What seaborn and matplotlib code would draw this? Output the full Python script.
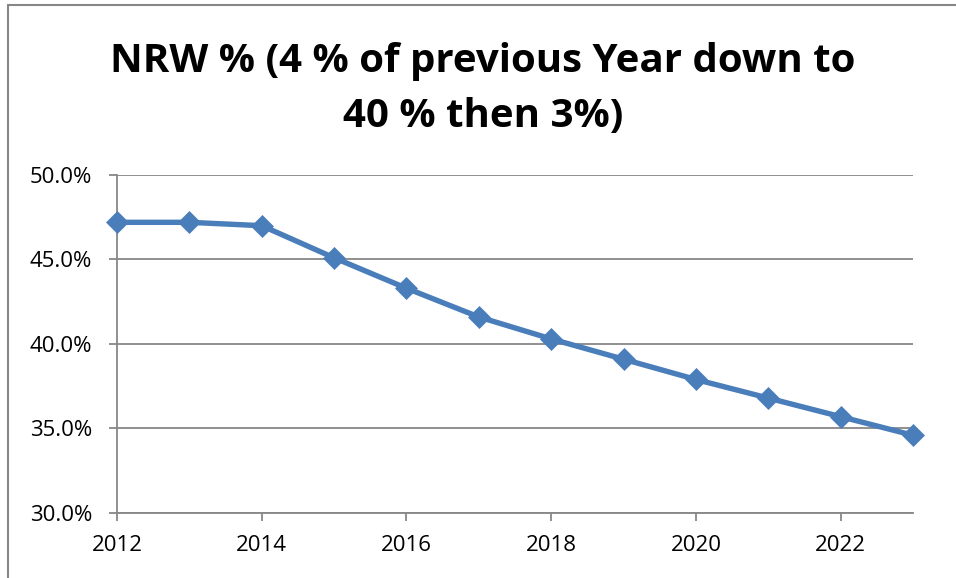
import matplotlib
matplotlib.use("Agg")
import matplotlib.pyplot as plt
from matplotlib.patches import Rectangle
from matplotlib.ticker import FuncFormatter, MultipleLocator
import seaborn as sns
import pandas as pd

# NRW share per year (percent)
years = [2012, 2013, 2014, 2015, 2016, 2017, 2018, 2019, 2020, 2021, 2022, 2023]
nrw_pct = [47.2, 47.2, 47.0, 45.1, 43.3, 41.6, 40.3, 39.1, 37.9, 36.8, 35.7, 34.6]
title_text = "NRW % (4 % of previous Year down to\n40 % then 3%)"

df = pd.DataFrame({"year": years, "nrw": nrw_pct})

sns.set_style("white")
plt.rcParams["font.family"] = ["Open Sans", "DejaVu Sans"]
plt.rcParams["text.color"] = "black"

grey = "#878787"
blue = "#4a7ebb"

fig = plt.figure(figsize=(9.56, 5.78), dpi=100)
ax = fig.add_axes([117 / 956, 1 - 513 / 578, (913 - 117) / 956, (513 - 175) / 578])

sns.lineplot(data=df, x="year", y="nrw", ax=ax, color=blue, linewidth=3.9,
             marker="D", markersize=11.5, markeredgecolor=blue, markeredgewidth=0.5,
             zorder=3, clip_on=False)

ax.set_xlim(2012, 2023)
ax.set_ylim(30, 50)
ax.xaxis.set_major_locator(MultipleLocator(2))
ax.yaxis.set_major_locator(MultipleLocator(5))
ax.yaxis.set_major_formatter(FuncFormatter(lambda v, _: f"{v:.1f}%"))

ax.grid(axis="y", color=grey, linewidth=1.3)
ax.set_axisbelow(True)
for side in ("top", "right"):
    ax.spines[side].set_visible(False)
for side in ("left", "bottom"):
    ax.spines[side].set_color(grey)
    ax.spines[side].set_linewidth(1.3)

ax.tick_params(axis="both", which="major", direction="out", length=6, width=1.3,
               color=grey, labelsize=16, labelcolor="black", left=True, bottom=True)
ax.tick_params(axis="y", pad=12)
ax.tick_params(axis="x", pad=10)
ax.set_xlabel("")
ax.set_ylabel("")

fig.text(0.505, 1 - 89 / 578, title_text, ha="center", va="center", color="black",
         fontsize=29, fontweight="bold", linespacing=1.55)

# chart frame
fig.patches.append(Rectangle((8 / 956, -0.2), 1.2, 1 - 5 / 578 + 0.2,
                             transform=fig.transFigure, fill=False,
                             edgecolor=grey, linewidth=1.5))

fig.savefig("out.png", dpi=100)
